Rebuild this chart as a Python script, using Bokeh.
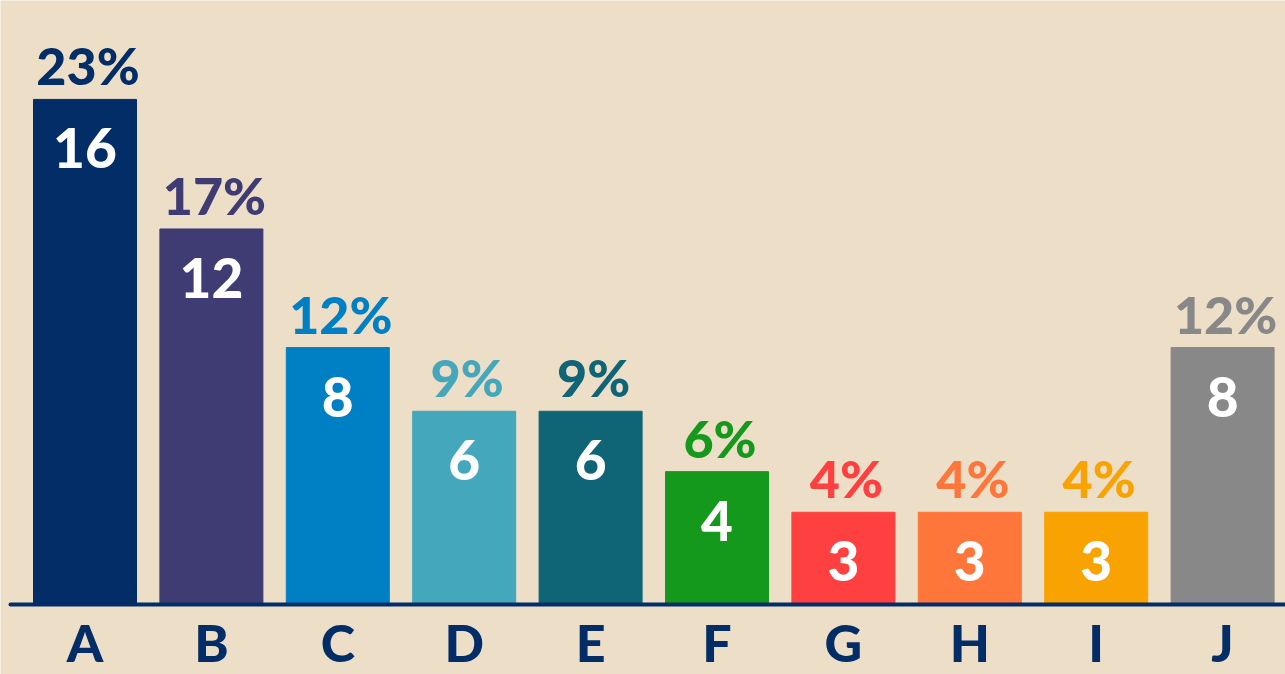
from bokeh.plotting import figure
from bokeh.models import ColumnDataSource, Range1d
from bokeh.core.properties import value
from bokeh.embed import file_html
from bokeh.resources import INLINE

# ---- data ----
categories = ["A", "B", "C", "D", "E", "F", "G", "H", "I", "J"]
seats = [16, 12, 8, 6, 6, 4, 3, 3, 3, 8]
share = [23.0, 17.1, 11.7, 8.8, 8.8, 6.05, 4.2, 4.2, 4.2, 11.7]
colors = ["#032D66", "#3E3C72", "#0080C4", "#44A7BC", "#0F6576",
          "#15991C", "#FF4040", "#FF763B", "#F9A302", "#888888"]

BG = "#EDDEC8"
NAVY = "#032D66"
FONT = "'Lato Black', Lato"

W, H = 1285, 674
pitch = 126.4          # px per category
px_per_unit = 21.96    # px per percentage point
x0_px = 84.5           # pixel of first category centre
y0_px = 70             # pixels of baseline above the frame bottom

xs = list(range(len(categories)))
src = ColumnDataSource(dict(
    x=xs, cat=categories, share=share, color=colors,
    pct=[f"{round(s)}%" for s in share],
    seats=[str(s) for s in seats],
    zero=[0] * len(categories),
))

xstart = -x0_px / pitch
xend = xstart + W / pitch
ystart = -y0_px / px_per_unit
p = figure(width=W, height=H, output_backend="svg", toolbar_location=None,
           x_range=Range1d(xstart, xend),
           y_range=Range1d(ystart, ystart + H / px_per_unit),
           min_border=0, x_axis_location=None, y_axis_location=None)
p.background_fill_color = BG
p.border_fill_color = BG
p.outline_line_color = None
p.grid.visible = False

p.vbar(x="x", top="share", bottom=0, width=103 / pitch, color="color",
       source=src)

# baseline (axis line) with rounded left end
p.segment(x0=[xstart + 10 / pitch], x1=[xend + 0.1], y0=[0], y1=[0],
          line_color=NAVY, line_width=4, line_cap="round")

# percentage labels above bars
p.text(x="x", y="share", text="pct", source=src, text_color="color",
       text_font=value(FONT), text_font_style="bold", text_font_size="52px",
       text_align="center", text_baseline="alphabetic", x_offset=3, y_offset=-34)

# seat counts inside bars
p.text(x="x", y="share", text="seats", source=src, text_color="white",
       text_font=value(FONT), text_font_style="bold", text_font_size="55px",
       text_align="center", text_baseline="alphabetic", y_offset=49)

# category labels under baseline
p.text(x="x", y="zero", text="cat", source=src, text_color=NAVY,
       text_font=value(FONT), text_font_style="bold", text_font_size="52px",
       text_align="center", text_baseline="alphabetic", y_offset=37)

open("out.html", "w").write(file_html(p, INLINE))
